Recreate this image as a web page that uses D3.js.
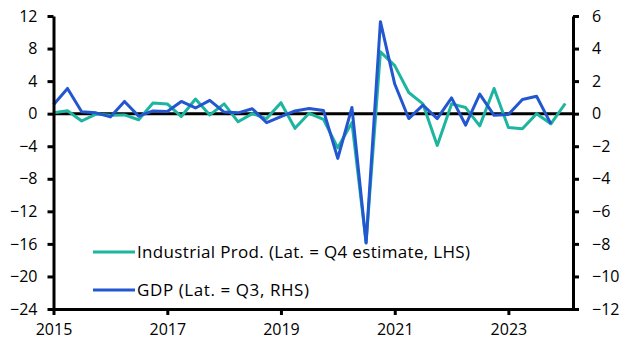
<!DOCTYPE html>
<html><head><meta charset="utf-8">
<script src="https://cdn.jsdelivr.net/npm/d3@7"></script>
<style>
body{margin:0;background:#fff}
svg{display:block}
text{font-family:"Open Sans","Noto Sans",sans-serif;fill:#000}
</style>
</head><body>
<svg id="chart" width="631" height="356"></svg>
<script>
// Quarter labels (plotted at quarter end)
const quarters = ["2014Q4",
 "2015Q1","2015Q2","2015Q3","2015Q4",
 "2016Q1","2016Q2","2016Q3","2016Q4",
 "2017Q1","2017Q2","2017Q3","2017Q4",
 "2018Q1","2018Q2","2018Q3","2018Q4",
 "2019Q1","2019Q2","2019Q3","2019Q4",
 "2020Q1","2020Q2","2020Q3","2020Q4",
 "2021Q1","2021Q2","2021Q3","2021Q4",
 "2022Q1","2022Q2","2022Q3","2022Q4",
 "2023Q1","2023Q2","2023Q3","2023Q4"];
// Industrial production, % q/q (LHS)
const industrialProd = [0.1,0.35,-0.9,-0.05,-0.2,-0.15,-0.75,1.3,1.2,-0.35,1.8,-0.15,1.2,-1.0,0.0,-0.6,
 1.35,-1.8,0.05,-0.7,-4.2,-1.1,-15.8,7.6,5.9,2.6,1.2,-3.9,1.2,0.75,-1.5,3.1,-1.7,-1.85,0.0,-1.25,1.25];
// GDP, % q/q (RHS) – latest = Q3 2023
const gdp = [0.55,1.55,0.12,0.05,-0.2,0.75,-0.15,0.17,0.13,0.75,0.35,0.82,0.1,0.05,0.3,-0.55,
 -0.18,0.17,0.32,0.2,-2.75,0.38,-7.95,5.65,1.82,-0.3,0.52,-0.3,0.97,-0.7,1.2,-0.1,-0.05,0.87,1.07,-0.63];
const leftTicks = [12,8,4,0,-4,-8,-12,-16,-20,-24];
const rightTicks = [6,4,2,0,-2,-4,-6,-8,-10,-12];
const yearTicks = [2015,2017,2019,2021,2023];
const legendLabels = ["Industrial Prod. (Lat. = Q4 estimate, LHS)","GDP (Lat. = Q3, RHS)"];
const colors = {ip:"#1db5a0", gdp:"#2357cf"};

const qDate = q => { const y=+q.slice(0,4), k=+q.slice(5); return new Date(y, 3*k, 1); };

const svg = d3.select("#chart");
const L=53.5, R=573, T=16, B=309;
const x = d3.scaleTime().domain([new Date(2015,0,1), new Date(2024,1,20)]).range([L,R]);
const yL = d3.scaleLinear().domain([-24,12]).range([B,T]);
const yR = d3.scaleLinear().domain([-12,6]).range([B,T]);

// zero line
svg.append("line").attr("x1",L).attr("x2",R).attr("y1",yL(0)).attr("y2",yL(0))
  .attr("stroke","#000").attr("stroke-width",3);

const lineL = d3.line().x((d,i)=>x(qDate(quarters[i]))).y(d=>yL(d));
const lineR = d3.line().x((d,i)=>x(qDate(quarters[i]))).y(d=>yR(d));
svg.append("path").datum(industrialProd).attr("d",lineL).attr("fill","none")
  .attr("stroke",colors.ip).attr("stroke-width",3).attr("stroke-linejoin","round");
svg.append("path").datum(gdp).attr("d",lineR).attr("fill","none")
  .attr("stroke",colors.gdp).attr("stroke-width",3).attr("stroke-linejoin","round");

function styleAxis(g){
  g.selectAll(".domain").attr("stroke","#000").attr("stroke-width",3);
  g.selectAll(".tick line").attr("stroke","#000").attr("stroke-width",3);
  g.selectAll(".tick text").style("font-size","16px").attr("fill","#000");
}
svg.append("g").attr("transform",`translate(${L},0)`)
  .call(d3.axisLeft(yL).tickValues(leftTicks).tickSize(6).tickSizeOuter(0).tickPadding(10))
  .call(styleAxis);
svg.append("g").attr("transform",`translate(${R},0)`)
  .call(d3.axisRight(yR).tickValues(rightTicks).tickSize(6).tickSizeOuter(0).tickPadding(13))
  .call(styleAxis);
svg.append("g").attr("transform",`translate(0,${B})`)
  .call(d3.axisBottom(x).tickValues(yearTicks.map(y=>new Date(y,0,1))).tickFormat(d3.timeFormat("%Y"))
    .tickSize(6).tickSizeOuter(0).tickPadding(9))
  .call(styleAxis);

// legend
const leg = svg.append("g");
[[colors.ip,252,333],[colors.gdp,290,172]].forEach(([c,yy,w],i)=>{
  leg.append("line").attr("x1",93).attr("x2",135).attr("y1",yy).attr("y2",yy)
    .attr("stroke",c).attr("stroke-width",3);
  leg.append("text").attr("x",137).attr("y",yy).attr("dy","0.35em")
    .attr("textLength",w).attr("lengthAdjust","spacing")
    .style("font-size","17px").text(legendLabels[i]);
});
</script>
</body></html>
